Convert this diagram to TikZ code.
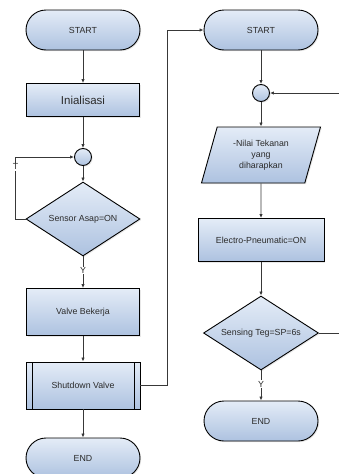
\documentclass[tikz,border=0pt]{standalone}
\usepackage{fontspec}
\setmainfont{Liberation Sans}
\usetikzlibrary{shapes.geometric,shadows,positioning,arrows.meta}

\definecolor{fltop}{HTML}{E4ECF7}
\definecolor{flbot}{HTML}{ADC2E0}
\definecolor{txt}{HTML}{2B2B2B}
\definecolor{wire}{HTML}{383838}

\tikzstyle{every node}+=[font=\fontsize{8.8}{11}\selectfont,text=txt,align=center,inner sep=1pt]
\tikzstyle{every path}+=[line width=0.8pt]
\tikzstyle{blok}=[draw=black,line width=0.9pt,top color=fltop,bottom color=flbot,
  drop shadow={shadow xshift=1.2pt,shadow yshift=-1.2pt,opacity=0.18}]
\tikzstyle{terminal}=[blok,rectangle,rounded corners=20pt,minimum width=114pt,minimum height=40pt]
\tikzstyle{proses}=[blok,rectangle,minimum width=113pt]
\tikzstyle{subproses}=[proses,path picture={
  \draw[line width=0.9pt] ([xshift=6pt]path picture bounding box.north west) -- ([xshift=6pt]path picture bounding box.south west);
  \draw[line width=0.9pt] ([xshift=-6pt]path picture bounding box.north east) -- ([xshift=-6pt]path picture bounding box.south east);}]
\tikzstyle{titik}=[blok,circle,minimum size=17pt,inner sep=0pt]
\tikzstyle{keputusan}=[blok,diamond,aspect=1.55,minimum width=114pt,minimum height=74pt,inner sep=0pt]
\tikzstyle{masukan}=[blok,trapezium,trapezium left angle=64,trapezium right angle=116,
  trapezium stretches body,minimum width=119pt,minimum height=56pt]
\tikzstyle{arr}=[draw=wire,-{Latex[length=4pt,width=3.4pt]}]
\tikzstyle{lbl}=[fill=white,inner sep=0.8pt]

\begin{document}
\begin{tikzpicture}[x=1pt,y=1pt]

\useasboundingbox (0,0) rectangle (338,-474);

% kolom kiri
\node[terminal] (start1) at (83,-30) {START};
\node[proses,minimum height=33pt,below of=start1,node distance=70pt,font=\fontsize{11.5}{13}\selectfont] (init) {Inialisasi};
\node[titik,below of=init,node distance=57pt] (c1) {};
\node[keputusan,below of=c1,node distance=62pt] (sensor) {Sensor Asap=ON};
\node[proses,minimum height=47pt,below of=sensor,node distance=93pt] (valve) {Valve Bekerja};
\node[subproses,minimum height=47pt,minimum width=114pt,below of=valve,node distance=73.5pt] (shut) {Shutdown Valve};
\node[terminal,below of=shut,node distance=72.5pt] (end1) {END};

% kolom kanan
\node[terminal] (start2) at (261,-30) {START};
\node[titik,below of=start2,node distance=63pt] (c2) {};
\node[masukan,below of=c2,node distance=62pt] (nilai) {-Nilai Tekanan\\yang\\diharapkan};
\node[proses,minimum width=126pt,minimum height=43pt,below of=nilai,node distance=85pt] (electro) {Electro-Pneumatic=ON};
\node[keputusan,minimum width=115pt,below of=electro,node distance=93pt] (sensing) {Sensing Teg=SP=6s};
\node[terminal,below of=sensing,node distance=88pt] (end2) {END};

\draw[arr] (start1) edge (init);
\draw[arr] (init) edge (c1);
\draw[arr] (c1) edge (sensor);
\draw[arr] (sensor) -- node[lbl,pos=0.44] {Y} (valve);
\draw[arr] (valve) edge (shut);
\draw[arr] (shut) edge (end1);
\draw[arr] (sensor.west) -- ++(-10,0) |- node[lbl,pos=0.42] {T} (c1.west);
\draw[arr] (shut.east) -- ++(27,0) |- (start2.west);

\draw[arr] (start2) edge (c2);
\draw[arr] (c2) edge (nilai);
\draw[arr] (nilai) edge (electro);
\draw[arr] (electro) edge (sensing);
\draw[arr] (sensing) -- node[lbl,pos=0.45] {Y} (end2);
\draw[arr] (sensing.east) -- ++(26,0) |- (c2.east);
\end{tikzpicture}
\end{document}
